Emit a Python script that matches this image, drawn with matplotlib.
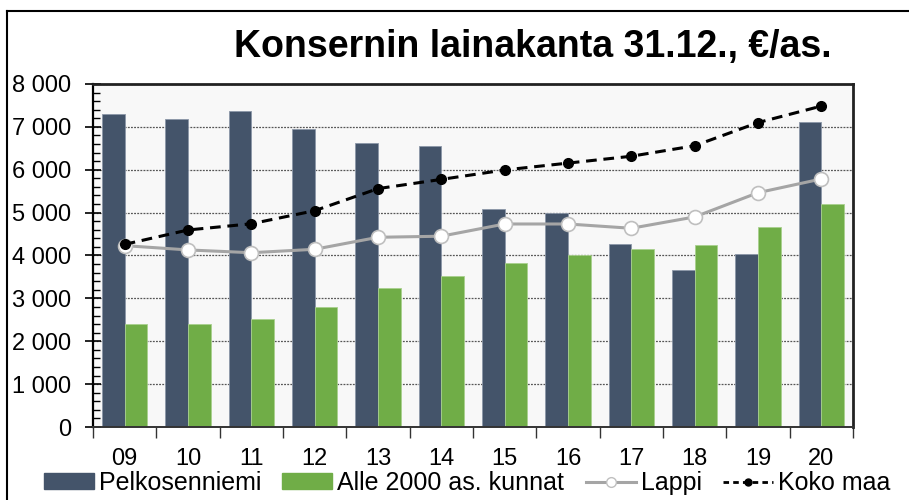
import matplotlib
matplotlib.use("Agg")
import matplotlib.pyplot as plt
import numpy as np
from matplotlib.ticker import FuncFormatter, MultipleLocator, FixedLocator
from matplotlib.lines import Line2D
from matplotlib.patches import Patch

plt.rcParams['font.family'] = ['Liberation Sans', 'DejaVu Sans']

years = ["09", "10", "11", "12", "13", "14", "15", "16", "17", "18", "19", "20"]
pelkosenniemi = [7290, 7180, 7380, 6950, 6630, 6560, 5080, 5000, 4260, 3660, 4030, 7120]
alle2000 = [2400, 2400, 2510, 2790, 3235, 3515, 3830, 4000, 4150, 4240, 4665, 5195]
lappi = [4230, 4130, 4065, 4145, 4425, 4450, 4735, 4735, 4635, 4900, 5465, 5785]
koko_maa = [4260, 4595, 4740, 5045, 5560, 5775, 5995, 6155, 6315, 6560, 7100, 7485]

title = "Konsernin lainakanta 31.12., €/as."
series_names = ["Pelkosenniemi", "Alle 2000 as. kunnat", "Lappi", "Koko maa"]

c_dark = "#44546A"
c_green = "#70AD47"
c_gray = "#A5A5A5"

fig = plt.figure(figsize=(9.09, 5.0), dpi=100)
# outer frame lines (left and top)
fig.add_artist(Line2D([7/909, 7/909], [0, 1 - 11/500], color="black", lw=1.5))
fig.add_artist(Line2D([7/909, 1], [1 - 11/500, 1 - 11/500], color="black", lw=1.5))

ax = fig.add_axes([93/909, 1 - 427/500, (853 - 93)/909, (427 - 84)/500])
ax.set_facecolor("#F8F8F8")

x = np.arange(len(years))
w = 0.358
ax.bar(x - w/2, pelkosenniemi, width=w, color=c_dark, edgecolor="#8C97A8", linewidth=0.6, zorder=2)
ax.bar(x + w/2, alle2000, width=w, color=c_green, edgecolor="#A9D08E", linewidth=0.6, zorder=2)
ax.plot(x, lappi, color=c_gray, lw=2.2, marker="o", markersize=10,
        markerfacecolor="white", markeredgecolor="#BFBFBF", markeredgewidth=1.2, zorder=3)
ax.plot(x, koko_maa, color="black", lw=2.2, ls=(0, (3.5, 2.2)), marker="o", markersize=7,
        markerfacecolor="black", markeredgecolor="black", zorder=4)

ax.set_xlim(-0.5, len(years) - 0.5)
ax.set_ylim(0, 8000)
ax.yaxis.set_major_locator(MultipleLocator(1000))
ax.yaxis.set_minor_locator(MultipleLocator(200))
ax.yaxis.set_major_formatter(FuncFormatter(lambda v, p: f"{int(v):,}".replace(",", " ")))
ax.grid(axis="y", which="major", color="#555555", ls=(0, (1.5, 1)), lw=0.9, zorder=1)

ax.set_xticks(x)
ax.set_xticklabels(years)
ax.xaxis.set_minor_locator(FixedLocator(np.arange(-0.5, len(years), 1.0)))
ax.tick_params(axis="x", which="major", length=0, pad=15, labelsize=17)
ax.tick_params(axis="x", which="minor", length=8, width=1, color="#333333", direction="out")
ax.tick_params(axis="y", which="major", length=11, width=1.2, direction="inout", labelsize=17, pad=10)
ax.tick_params(axis="y", which="minor", length=5, width=1, direction="in")

for s in ["top", "right"]:
    ax.spines[s].set_linewidth(2)
    ax.spines[s].set_color("#222222")
ax.spines["left"].set_linewidth(1.6)
ax.spines["bottom"].set_linewidth(1.4)
ax.spines["bottom"].set_color("#333333")

fig.text(533/909, 1 - 47/500, title, ha="center", va="center", fontsize=27, fontweight="bold")

handles = [
    Patch(facecolor=c_dark, edgecolor=c_dark),
    Patch(facecolor=c_green, edgecolor=c_green),
    Line2D([], [], color=c_gray, lw=2.2, marker="o", markersize=7, markerfacecolor="white", markeredgecolor="#BFBFBF"),
    Line2D([], [], color="black", lw=2, ls=(0, (2, 1.5)), marker="o", markersize=5, markerfacecolor="black"),
]
fig.legend(handles, series_names, loc="center", bbox_to_anchor=(467/909, 1 - 483/500), ncol=4,
           frameon=False, fontsize=18, handlelength=2.0, handleheight=0.6, handletextpad=0.2,
           columnspacing=0.85, borderaxespad=0, borderpad=0)

fig.savefig("out.png", dpi=100)
